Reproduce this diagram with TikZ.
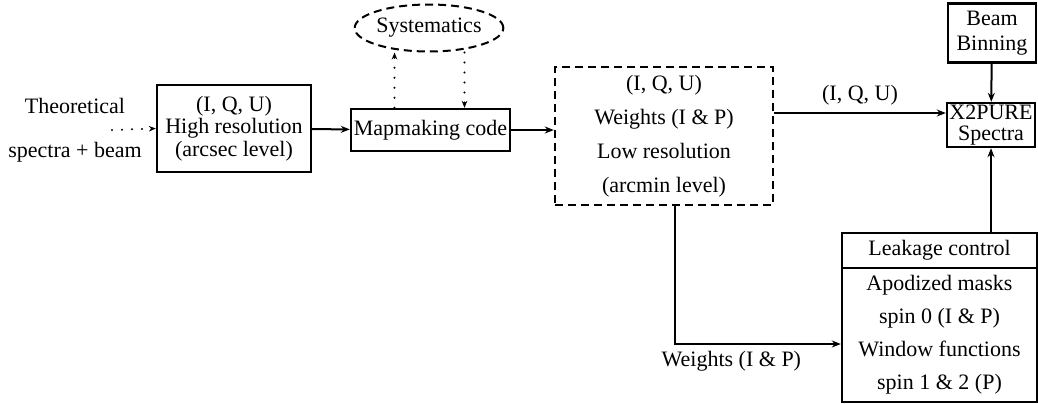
\documentclass[tikz,border=0pt]{standalone}
\usepackage{fontspec}
\setmainfont{Liberation Serif}
\usetikzlibrary{arrows.meta,positioning,shapes.geometric}

\begin{document}
\begin{tikzpicture}[x=0.5pt, y=-0.5pt,
  font=\fontsize{11}{13}\selectfont,
  b/.style={draw, line width=1.2pt, inner sep=0pt, align=center},
  dsh/.style={b, dash pattern=on 4pt off 2.5pt},
  arr/.style={-{Stealth[length=4.5pt, width=3.5pt]}, line width=1pt},
  dotarr/.style={-{Stealth[length=3.5pt, width=2.8pt]}, line width=1.1pt, line cap=round, dash pattern=on 0pt off 5pt}]
  \useasboundingbox (0,0) rectangle (1038,403);
  % input and map making
  \node[align=center, font=\fontsize{11}{22}\selectfont] (theo) at (75,130) {Theoretical\\ spectra + beam};
  \coordinate (theoend) at (112,130);
  \node[b, minimum width=77pt, minimum height=43.5pt, font=\fontsize{11}{11.2}\selectfont] (hires) at (234,128.5) {(I, Q, U)\\ High resolution\\ (arcsec level)};
  \node[b, minimum width=79.5pt, minimum height=21pt] (map) at (430.5,130) {Mapmaking code};
  \node[dsh, ellipse, line width=1pt, minimum width=59pt, minimum height=23.5pt] (sys) at (429,28) {Systematics};
  \node[dsh, minimum width=109pt, minimum height=69pt, font=\fontsize{11}{17}\selectfont] (lowres) at (664,136) {(I, Q, U)\\ Weights (I \& P)\\ Low resolution\\ (arcmin level)};
  % spectra side
  \node[b, minimum width=44pt, minimum height=22pt, font=\fontsize{11}{10.5}\selectfont] (x2pure) at (991,125) {X2PURE\\ Spectra};
  \node[b, minimum width=44pt, minimum height=29.5pt, font=\fontsize{11}{12.5}\selectfont] (beam) at (992,33) {Beam\\ Binning};
  \node[b, minimum width=97.5pt, minimum height=17.5pt] (leakhead) at (939.5,250.5) {Leakage control};
  \node[b, minimum width=97.5pt, minimum height=67pt, below=-1.2pt of leakhead, font=\fontsize{11}{16.5}\selectfont] (leakbody) {Apodized masks\\ spin 0 (I \& P)\\ Window functions\\ spin 1 \& 2 (P)};
  % connectors
  \draw[dotarr] (theoend) -- (hires.west);
  \draw[arr] (hires) -- (map);
  \draw[dotarr] ([xshift=-18pt]map.north) -- ([xshift=-18pt]map.north |- sys.south);
  \draw[dotarr] ([xshift=17pt]map.north |- sys.south) -- ([xshift=17pt]map.north);
  \draw[arr] (map.east) -- (map.east -| lowres.west);
  \draw[arr] ([yshift=11.5pt]lowres.east) -- ([yshift=11.5pt]lowres.east -| x2pure.west) node[midway, above] {(I, Q, U)};
  \draw[arr] ([xshift=5.5pt]lowres.south) |- ([yshift=-4.5pt]leakbody.west) node[pos=0.67, below] {Weights (I \& P)};
  \draw[arr] (beam) -- (x2pure);
  \draw[arr] (leakhead.north -| x2pure.south) -- (x2pure.south);
\end{tikzpicture}
\end{document}
